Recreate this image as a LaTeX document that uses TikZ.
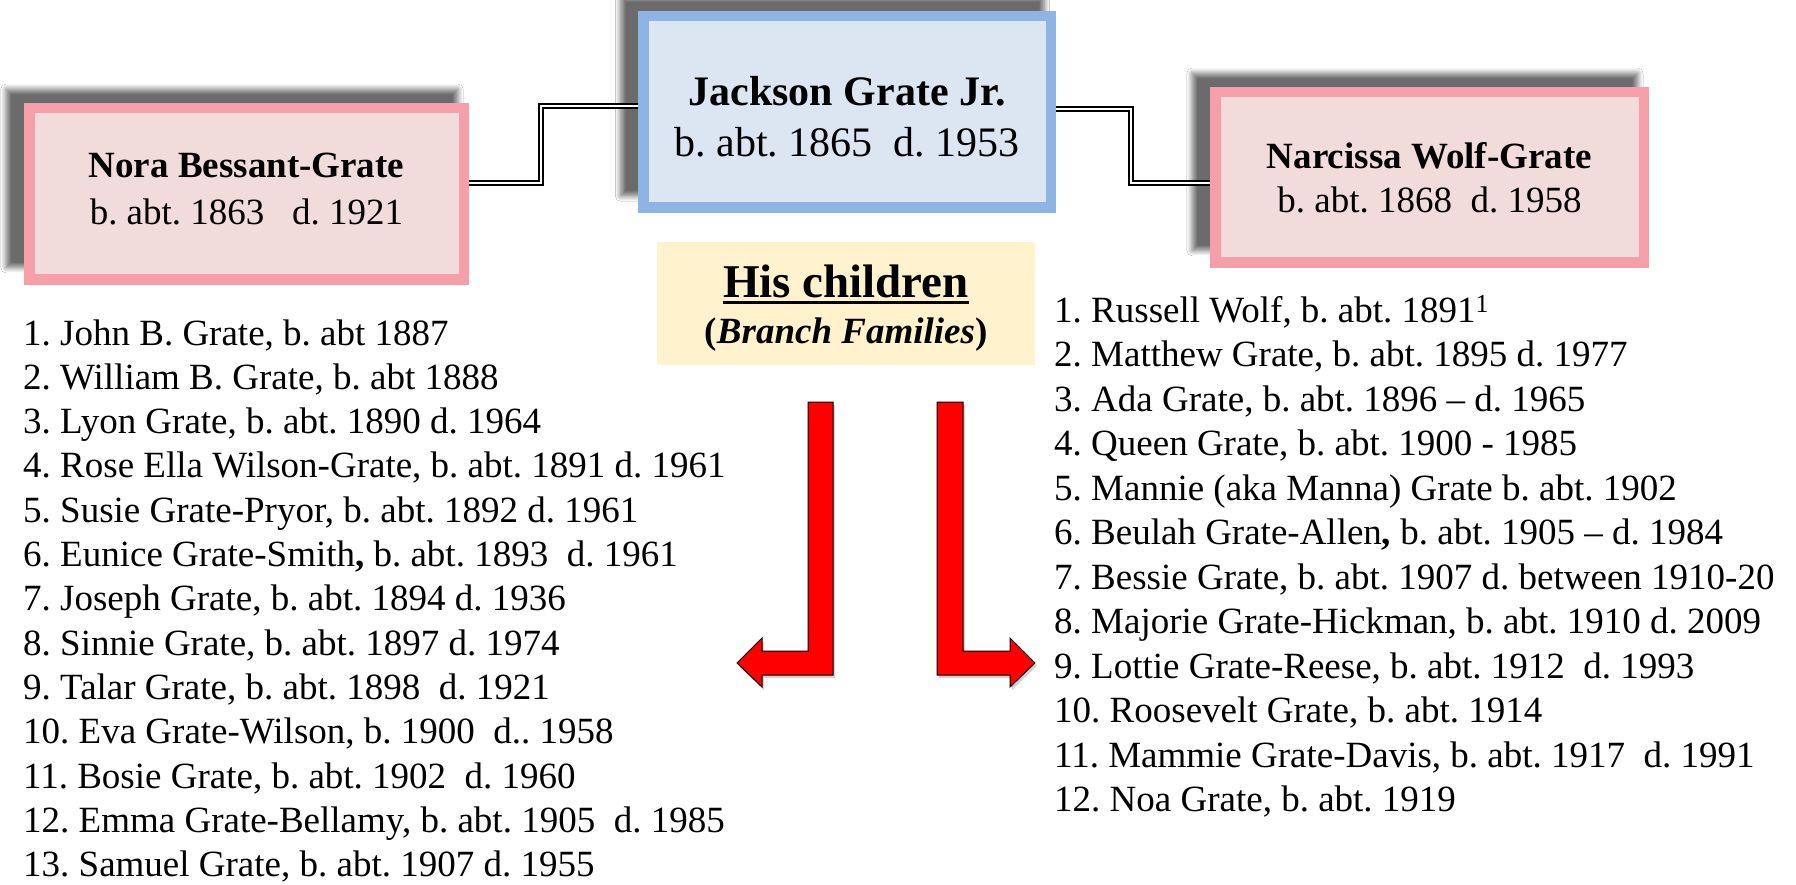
\documentclass[tikz,border=0pt]{standalone}
\usepackage{fontspec}
\setmainfont{Liberation Serif}
\definecolor{wifePink}{RGB}{242, 220, 219}
\definecolor{wifeBorder}{RGB}{245, 160, 168}
\definecolor{headBlue}{RGB}{220, 230, 242}
\definecolor{headBorder}{RGB}{142, 180, 227}
\definecolor{noteYellow}{RGB}{255, 242, 204}
\definecolor{arrowRed}{RGB}{255, 0, 0}
\usetikzlibrary{shadows,shadows.blur,calc}
\newcommand{\titleline}[1]{\setbox0\hbox{#1}\rlap{\rule[-6pt]{\wd0}{3pt}}\box0}
\frenchspacing

\begin{document}
\begin{tikzpicture}[x=1pt,y=-1pt,
    person/.style={draw,line width=10.5pt,inner sep=0pt,align=center,
      font=\fontsize{37}{47}\selectfont,
      blur shadow={shadow xshift=-14pt,shadow yshift=15pt,shadow scale=1.04,
        shadow blur radius=5pt,shadow blur steps=12,shadow opacity=58}},
    wife/.style={person,fill=wifePink,draw=wifeBorder},
    marriage/.style={draw=black,line width=2.3pt,double=white,double distance=2.3pt},
    kidline/.style={anchor=base west,inner sep=0pt,font=\fontsize{37}{44}\selectfont},
    bentarrow/.style={fill=arrowRed,draw=black,line width=1pt,
      drop shadow={shadow xshift=2pt,shadow yshift=-3pt,opacity=.35}}]
    \useasboundingbox[fill=white] (0,0) rectangle (1796,885);

    % Parents
    \node[person,fill=headBlue,draw=headBorder,minimum width=407.5pt,minimum height=191.5pt,
      font=\fontsize{42}{51}\selectfont] (jackson) at (847,112)
      {\rule{0pt}{38pt}\textbf{Jackson Grate Jr.}\\b. abt. 1865\ \ d. 1953};
    \node[wife,minimum width=434.5pt,minimum height=171.5pt,text depth=10pt] (nora) at (246.5,194)
      {\textbf{Nora Bessant-Grate}\\b. abt. 1863\ \ \ d. 1921};
    \node[wife,minimum width=428.5pt,minimum height=170.5pt,font=\fontsize{37}{44}\selectfont] (narcissa) at (1429.5,177.5)
      {\textbf{Narcissa Wolf-Grate}\\b. abt. 1868\ \ d. 1958};

    \draw[marriage] ([yshift=11pt]nora.east) -- ++(72,0) |- ([yshift=6pt]jackson.west);
    \draw[marriage] ([yshift=3pt]jackson.east) -- ++(75,0) |- ([yshift=-5.5pt]narcissa.west);

    % Children heading
    \node[fill=noteYellow,minimum width=378pt,minimum height=123pt,inner sep=0pt,align=center,
      font=\bfseries\fontsize{37}{46}\selectfont] (kids) at (846,303.5)
      {{\fontsize{47}{46}\selectfont\rule{0pt}{42pt}\titleline{His children}}\\(\textit{Branch Families})};

    % Bent arrows
    \filldraw[bentarrow] (808,402) -- (833,402) -- (833,675) -- (762,675) -- (762,687)
      -- (737,663) -- (762,638) -- (762,651) -- (808,651) -- cycle;
    \filldraw[bentarrow] (937,402) -- (963,402) -- (963,651) -- (1010,651) -- (1010,638)
      -- (1035,663) -- (1010,687) -- (1010,675) -- (937,675) -- cycle;

    % Nora's children
    \foreach \name [count=\i] in {
        {1. John B. Grate, b. abt 1887},
        {2. William B. Grate, b. abt 1888},
        {3. Lyon Grate, b. abt. 1890 d. 1964},
        {4. Rose Ella Wilson-Grate, b. abt. 1891 d. 1961},
        {5. Susie Grate-Pryor, b. abt. 1892 d. 1961},
        {6. Eunice Grate-Smith\textbf{,} b. abt. 1893\ \ d. 1961},
        {7. Joseph Grate, b. abt. 1894 d. 1936},
        {8. Sinnie Grate, b. abt. 1897 d. 1974},
        {9. Talar Grate, b. abt. 1898\ \ d. 1921},
        {10. Eva Grate-Wilson, b. 1900\ \ d.. 1958},
        {11. Bosie Grate, b. abt. 1902\ \ d. 1960},
        {12. Emma Grate-Bellamy, b. abt. 1905\ \ d. 1985},
        {13. Samuel Grate, b. abt. 1907 d. 1955}}
      \node[kidline] (noraKid\i) at (23,{345+44.3*(\i-1)}) {\name};

    % Narcissa's children
    \foreach \name [count=\i] in {
        {1. Russell Wolf, b. abt. 1891\textsuperscript{1}},
        {2. Matthew Grate, b. abt. 1895 d. 1977},
        {3. Ada Grate, b. abt. 1896 -- d. 1965},
        {4. Queen Grate, b. abt. 1900 - 1985},
        {5. Mannie (aka Manna) Grate b. abt. 1902},
        {6. Beulah Grate-Allen\textbf{,} b. abt. 1905 -- d. 1984},
        {7. Bessie Grate, b. abt. 1907 d. between 1910-20},
        {8. Majorie Grate-Hickman, b. abt. 1910 d. 2009},
        {9. Lottie Grate-Reese, b. abt. 1912\ \ d. 1993},
        {10. Roosevelt Grate, b. abt. 1914},
        {11. Mammie Grate-Davis, b. abt. 1917\ \ d. 1991},
        {12. Noa Grate, b. abt. 1919}}
      \node[kidline] (narcissaKid\i) at (1054,{322+44.5*(\i-1)}) {\name};
\end{tikzpicture}
\end{document}
